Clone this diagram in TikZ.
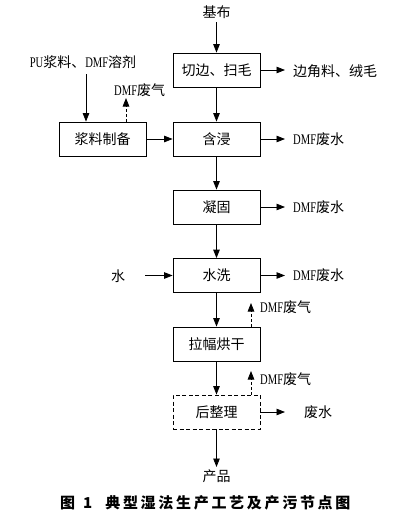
\documentclass[tikz,border=0pt]{standalone}
\usepackage{fontspec}
\setmainfont{Liberation Serif}
\newfontfamily\cjk{Noto Sans CJK SC}
\newfontfamily\cjkcap[LetterSpace=18]{Noto Sans CJK SC}
\newfontfamily\lat[FakeStretch=0.72,Scale=1.05]{Liberation Serif}
\usetikzlibrary{arrows.meta}
\newcommand\dmf{{\lat DMF}}
\begin{document}
\begin{tikzpicture}[x=1pt,y=-1pt,
  box/.style={draw,line width=0.8pt,minimum width=87pt,minimum height=34pt,inner sep=0pt,font=\fontsize{14}{14}\cjk},
  lbl/.style={inner sep=0pt,font=\fontsize{14}{14}\cjk},
  arr/.style={line width=0.8pt,-{Triangle[length=8.5pt,width=6.5pt]}},
  darr/.style={arr,dashed,dash pattern=on 3pt off 2pt}]
\useasboundingbox (0,0) rectangle (400,515);
\node[box] (b1) at (216.5,70) {切边、扫毛};
\node[box] (b2) at (216.5,139) {含浸};
\node[box] (prep) at (102.5,139) {浆料制备};
\node[box] (b3) at (216.5,207) {凝固};
\node[box] (b4) at (216.5,275.5) {水洗};
\node[box] (b5) at (216.5,344) {拉幅烘干};
\node[box,dashed,dash pattern=on 4pt off 2.5pt] (b6) at (216.5,412) {后整理};
\node[lbl] (jibu) at (216.5,12) {基布};
\node[lbl] (cp) at (216.5,476) {产品};
\node[lbl,anchor=west,font=\fontsize{15}{15}\cjk\bfseries] (cap) at (60,503) {图\hspace{8pt}1\hspace{13pt}{\cjkcap\bfseries 典型湿法生产工艺及产污节点图}};
\node[lbl,anchor=west] (o1) at (293,71) {边角料、绒毛};
\node[lbl,anchor=west] (o2) at (293,139) {\dmf 废水};
\node[lbl,anchor=west] (o3) at (293,207) {\dmf 废水};
\node[lbl,anchor=west] (o4) at (293,275.5) {\dmf 废水};
\node[lbl] (o6) at (318,412) {废水};
\node[lbl] (water) at (118,276) {水};
\node[lbl] (pu) at (83,62) {{\lat PU}浆料、\dmf 溶剂};
\node[lbl,anchor=west] (g1) at (114,90) {\dmf 废气};
\node[lbl,anchor=west] (g2) at (260,307) {\dmf 废气};
\node[lbl,anchor=west] (g3) at (260,379) {\dmf 废气};
% coordinates
\coordinate (e1) at (285,70);
\coordinate (e2) at (285,139);
\coordinate (e3) at (285,207);
\coordinate (e4) at (285,275.5);
\coordinate (e6) at (285,412);
\coordinate (ws) at (145,275.5);
\coordinate (pus) at (86,74);
\coordinate (t1) at (126,98);
\coordinate (t2) at (251,303);
\coordinate (t3) at (251,371);
% main flow
\draw[arr] (jibu.south |- 0,22) -- (b1.north);
\draw[arr] (b1) -- (b2);
\draw[arr] (b2) -- (b3);
\draw[arr] (b3) -- (b4);
\draw[arr] (b4) -- (b5);
\draw[arr] (b5) -- (b6);
\draw[arr] (b6.south) -- (cp.north |- 0,467);
\draw[arr] (prep) -- (b2);
\draw[arr] (pus) -- (pus |- prep.north);
\draw[arr] (ws) -- (b4.west);
% outputs
\draw[arr] (b1.east) -- (e1);
\draw[arr] (b2.east) -- (e2);
\draw[arr] (b3.east) -- (e3);
\draw[arr] (b4.east) -- (e4);
\draw[arr] (b6.east) -- (e6);
% gases
\draw[darr] (t1 |- prep.north) -- (t1);
\draw[darr] (t2 |- b5.north) -- (t2);
\draw[darr] (t3 |- b6.north) -- (t3);
\end{tikzpicture}
\end{document}
